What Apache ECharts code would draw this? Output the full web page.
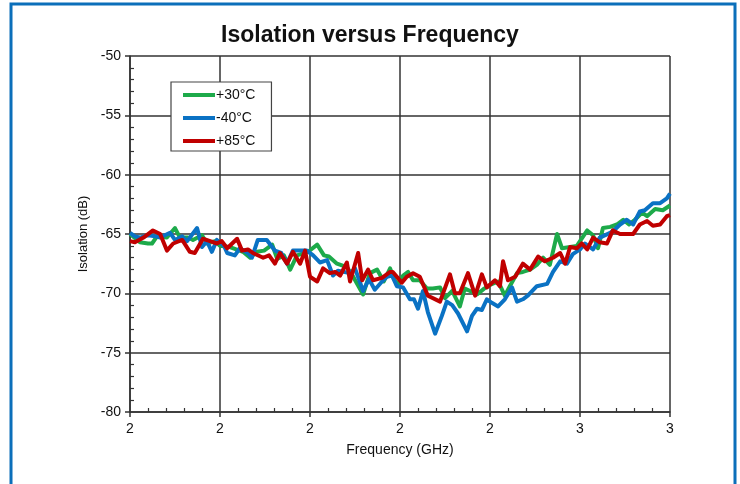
<!DOCTYPE html>
<html>
<head>
<meta charset="utf-8">
<script src="https://cdn.jsdelivr.net/npm/echarts@6/dist/echarts.min.js"></script>
<style>
  html, body { margin: 0; padding: 0; background: #fff; }
  #chart { width: 740px; height: 484px; }
</style>
</head>
<body>
<div id="chart"></div>
<script>
// Isolation (dB) vs frequency (GHz) at three temperatures
const seriesNames = ['+30°C', '-40°C', '+85°C'];
const seriesColors = ['#1DAA4A', '#0A72C4', '#C00000'];

const freq30 = [1.600,1.622,1.640,1.649,1.660,1.682,1.700,1.711,1.729,1.740,1.760,1.771,1.789,1.800,1.822,1.836,1.851,1.867,1.882,1.898,1.916,1.927,1.942,1.956,1.971,1.996,2.016,2.031,2.042,2.060,2.082,2.096,2.118,2.133,2.149,2.164,2.178,2.193,2.207,2.218,2.229,2.244,2.260,2.273,2.289,2.300,2.316,2.333,2.344,2.356,2.371,2.387,2.400,2.418,2.433,2.444,2.460,2.473,2.489,2.504,2.518,2.533,2.549,2.560,2.578,2.593,2.616,2.629,2.640,2.651,2.667,2.682,2.696,2.709,2.722,2.738,2.749,2.767,2.784,2.800];
const iso30 = [-65.0,-65.7,-65.8,-65.8,-65.2,-65.3,-64.5,-65.3,-65.3,-65.5,-65.1,-65.8,-65.6,-66.0,-66.1,-66.3,-66.5,-67.0,-66.5,-66.4,-65.9,-67.1,-66.8,-68.0,-66.8,-66.5,-65.9,-66.8,-66.9,-67.5,-67.8,-68.6,-70.1,-68.3,-68.0,-69.0,-67.9,-69.3,-68.5,-68.2,-68.9,-68.9,-69.6,-69.6,-69.5,-70.4,-69.8,-71.1,-69.6,-69.8,-70.1,-69.6,-69.3,-69.0,-70.2,-69.4,-68.3,-68.2,-68.0,-67.6,-67.0,-67.6,-65.0,-66.2,-66.1,-66.0,-64.7,-65.1,-66.2,-64.5,-64.4,-64.2,-63.8,-64.2,-63.8,-63.2,-63.5,-62.9,-63.0,-62.6];

const freq40 = [1.600,1.611,1.622,1.640,1.656,1.667,1.689,1.700,1.716,1.727,1.749,1.760,1.771,1.782,1.793,1.809,1.816,1.833,1.844,1.862,1.871,1.884,1.904,1.922,1.936,1.949,1.962,1.978,1.993,2.007,2.022,2.038,2.051,2.062,2.089,2.100,2.118,2.131,2.144,2.160,2.171,2.182,2.193,2.207,2.222,2.231,2.240,2.251,2.262,2.278,2.293,2.304,2.316,2.329,2.349,2.360,2.371,2.382,2.393,2.404,2.418,2.433,2.449,2.460,2.473,2.484,2.504,2.527,2.540,2.556,2.571,2.584,2.600,2.611,2.629,2.644,2.667,2.678,2.689,2.704,2.718,2.733,2.744,2.762,2.778,2.793,2.800];
const iso40 = [-64.9,-65.2,-65.3,-65.1,-65.2,-65.3,-64.9,-65.5,-65.2,-65.6,-64.5,-66.1,-65.6,-66.5,-65.5,-66.0,-66.6,-66.8,-66.2,-66.6,-67.0,-65.5,-65.5,-66.4,-66.6,-67.5,-66.4,-66.4,-66.4,-66.8,-67.4,-67.2,-68.5,-68.1,-68.3,-67.9,-69.8,-68.8,-69.7,-69.0,-68.6,-68.5,-69.4,-69.5,-70.5,-70.5,-71.3,-69.8,-71.6,-73.4,-71.9,-70.7,-71.0,-71.7,-73.2,-71.9,-71.3,-71.4,-70.5,-70.8,-71.1,-70.5,-69.5,-70.7,-70.5,-70.2,-69.4,-69.2,-68.2,-67.3,-67.5,-66.7,-66.3,-65.8,-66.3,-65.3,-64.9,-64.6,-64.2,-63.8,-64.2,-63.1,-63.0,-62.4,-62.4,-62.0,-61.6];

const freq85 = [1.600,1.611,1.630,1.651,1.667,1.682,1.696,1.716,1.733,1.744,1.762,1.778,1.793,1.804,1.816,1.827,1.838,1.849,1.862,1.873,1.896,1.909,1.922,1.933,1.949,1.962,1.978,1.989,2.000,2.016,2.029,2.044,2.056,2.067,2.082,2.089,2.107,2.116,2.129,2.140,2.160,2.178,2.184,2.204,2.215,2.229,2.244,2.262,2.289,2.311,2.322,2.333,2.351,2.367,2.382,2.393,2.411,2.422,2.429,2.440,2.456,2.473,2.489,2.507,2.522,2.540,2.556,2.567,2.578,2.593,2.604,2.616,2.629,2.644,2.660,2.673,2.689,2.704,2.718,2.733,2.749,2.762,2.778,2.793,2.800];
const iso85 = [-65.6,-65.7,-65.3,-64.7,-65.0,-66.4,-65.8,-65.5,-66.5,-66.6,-65.4,-65.6,-65.8,-65.6,-66.2,-65.8,-65.4,-66.4,-66.3,-66.6,-67.0,-66.8,-67.5,-66.6,-67.5,-66.5,-67.5,-66.4,-68.6,-69.0,-67.9,-68.3,-68.2,-68.5,-67.4,-69.0,-66.6,-68.9,-68.0,-68.9,-68.7,-68.2,-68.2,-69.1,-68.6,-68.3,-68.6,-70.2,-70.7,-68.4,-70.0,-70.0,-68.3,-70.2,-68.4,-69.5,-68.9,-69.4,-67.3,-68.9,-68.6,-67.5,-68.0,-66.9,-67.3,-67.0,-66.6,-67.5,-66.1,-66.2,-65.8,-66.3,-65.3,-65.7,-65.8,-64.7,-65.0,-65.0,-65.0,-64.2,-63.9,-64.3,-64.2,-63.5,-63.4];

const xRange = { min: 1.6, max: 2.8, step: 0.2 };
const yRange = { min: -80, max: -50, step: 5 };

const pairs = (xs, ys) => xs.map((x, i) => [x, ys[i]]);
const dataSets = [pairs(freq30, iso30), pairs(freq40, iso40), pairs(freq85, iso85)];

const FONT = '"Liberation Sans", Arial, sans-serif';
const gridColor = '#333333';

const chart = echarts.init(document.getElementById('chart'), null, { renderer: 'canvas' });

chart.setOption({
  backgroundColor: '#ffffff',
  animation: false,
  title: {
    text: 'Isolation versus Frequency',
    left: 'center',
    top: 19,
    textStyle: { fontFamily: FONT, fontSize: 23, fontWeight: 'bold', color: '#111' }
  },
  graphic: [{
    type: 'rect',
    shape: { x: 11, y: 4, width: 724, height: 520 },
    style: { fill: 'none', stroke: '#0B6FBA', lineWidth: 3 },
    silent: true,
    z: 100
  }],
  legend: {
    orient: 'vertical',
    left: 171,
    top: 82,
    padding: [6, 16, 3, 12],
    itemGap: 9,
    itemWidth: 32,
    itemHeight: 4,
    icon: 'rect',
    backgroundColor: '#fff',
    borderColor: '#444',
    borderWidth: 1.2,
    borderRadius: 0,
    textStyle: { fontFamily: FONT, fontSize: 14, color: '#111', padding: [0, 0, 0, -4] },
    data: seriesNames
  },
  grid: { left: 130, right: 70, top: 56, bottom: 72, containLabel: false },
  xAxis: {
    type: 'value',
    min: xRange.min,
    max: xRange.max,
    interval: xRange.step,
    name: 'Frequency (GHz)',
    nameLocation: 'middle',
    nameGap: 31,
    nameTextStyle: { fontFamily: FONT, fontSize: 14, color: '#111' },
    axisLine: { show: true, onZero: false, lineStyle: { color: gridColor, width: 1.5 } },
    axisTick: { show: true, inside: false, length: 5, lineStyle: { color: gridColor, width: 1.5 } },
    minorTick: { show: true, splitNumber: 5, length: -4, lineStyle: { color: gridColor, width: 1.2 } },
    axisLabel: {
      fontFamily: FONT, fontSize: 14, color: '#111', margin: 10,
      formatter: v => String(Math.round(v))
    },
    splitLine: { show: true, lineStyle: { color: gridColor, width: 1.5 } }
  },
  yAxis: {
    type: 'value',
    min: yRange.min,
    max: yRange.max,
    interval: yRange.step,
    name: 'Isolation (dB)',
    nameLocation: 'middle',
    nameGap: 37,
    nameTextStyle: { fontFamily: FONT, fontSize: 13, color: '#111' },
    axisLine: { show: true, lineStyle: { color: gridColor, width: 1.5 } },
    axisTick: { show: true, inside: false, length: 5, lineStyle: { color: gridColor, width: 1.5 } },
    minorTick: { show: true, splitNumber: 5, length: -4, lineStyle: { color: gridColor, width: 1.2 } },
    axisLabel: { fontFamily: FONT, fontSize: 14, color: '#111', margin: 9 },
    splitLine: { show: true, lineStyle: { color: gridColor, width: 1.5 } }
  },
  series: seriesNames.map((name, i) => ({
    name,
    type: 'line',
    data: dataSets[i],
    showSymbol: false,
    symbol: 'none',
    smooth: false,
    lineStyle: { color: seriesColors[i], width: 4, join: 'round' },
    itemStyle: { color: seriesColors[i] },
    z: 3 + i
  }))
});
</script>
</body>
</html>
